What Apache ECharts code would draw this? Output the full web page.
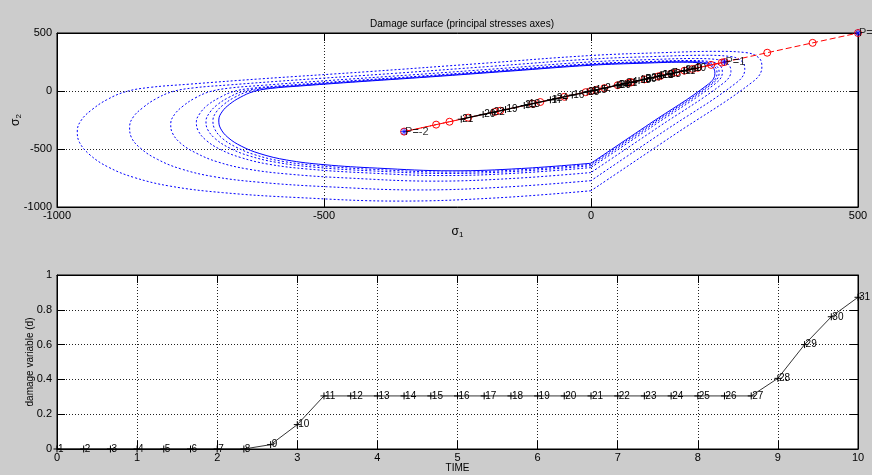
<!DOCTYPE html>
<html>
<head>
<meta charset="utf-8">
<script src="https://cdn.jsdelivr.net/npm/echarts@6/dist/echarts.min.js"></script>
<style>
html,body{margin:0;padding:0;background:#cccccc;}
#c{width:872px;height:475px;}
</style>
</head>
<body>
<div id="c"></div>
<script>
// ---- Damage surfaces (sigma1, sigma2) ----
const surf100 = [[0,-623],[-130,-668],[-260,-688],[-400,-665],[-500,-635],[-570,-595],[-620,-540],[-655,-475],[-680,-400],[-694,-320],[-697,-250],[-691,-180],[-677,-115],[-657,-55],[-632,-5],[-600,22],[-545,43],[-450,75],[-300,122],[-150,172],[0,222],[100,240],[170,248],[210,240],[228,205],[232,150],[220,60],[110,-282],[0,-623]];
const surf102 = [[0,-633],[-132,-679],[-264,-699],[-406,-676],[-508,-645],[-579,-605],[-630,-549],[-665,-483],[-691,-406],[-705,-325],[-708,-254],[-702,-183],[-688,-117],[-668,-56],[-642,-5],[-610,22],[-554,44],[-457,76],[-305,124],[-152,175],[0,226],[102,244],[173,252],[213,244],[232,208],[236,152],[224,61],[112,-287],[0,-633]];
const surf103 = [[0,-644],[-134,-691],[-269,-711],[-414,-688],[-517,-657],[-589,-615],[-641,-558],[-677,-491],[-703,-414],[-718,-331],[-721,-259],[-714,-186],[-700,-119],[-679,-57],[-653,-5],[-620,23],[-564,44],[-465,78],[-310,126],[-155,178],[0,230],[103,248],[176,256],[217,248],[236,212],[240,155],[227,62],[114,-292],[0,-644]];
const surf106 = [[0,-660],[-138,-708],[-276,-729],[-424,-705],[-530,-673],[-604,-631],[-657,-572],[-694,-504],[-721,-424],[-736,-339],[-739,-265],[-732,-191],[-718,-122],[-696,-58],[-670,-5],[-636,23],[-578,46],[-477,80],[-318,129],[-159,182],[0,235],[106,254],[180,263],[223,254],[242,217],[246,159],[233,64],[117,-299],[0,-660]];
const surf113 = [[0,-703],[-147,-754],[-294,-777],[-452,-751],[-565,-717],[-644,-672],[-700,-610],[-739,-536],[-768,-452],[-784,-361],[-787,-282],[-780,-203],[-764,-130],[-742,-62],[-714,-6],[-677,25],[-615,49],[-508,85],[-339,138],[-169,194],[0,251],[113,271],[192,280],[237,271],[257,231],[262,169],[248,68],[124,-318],[0,-703]];
const surf124 = [[0,-773],[-161,-828],[-322,-853],[-496,-825],[-620,-787],[-707,-738],[-769,-670],[-812,-589],[-843,-496],[-861,-397],[-864,-310],[-857,-223],[-839,-143],[-815,-68],[-784,-6],[-744,27],[-676,53],[-558,93],[-372,151],[-186,213],[0,275],[124,298],[211,308],[260,298],[283,254],[288,186],[273,74],[136,-350],[0,-773]];
const surf138 = [[0,-860],[-179,-922],[-359,-949],[-552,-918],[-690,-876],[-787,-821],[-856,-745],[-904,-656],[-938,-552],[-958,-442],[-962,-345],[-954,-248],[-934,-159],[-907,-76],[-872,-7],[-828,30],[-752,59],[-621,104],[-414,168],[-207,237],[0,306],[138,331],[235,342],[290,331],[315,283],[320,207],[304,83],[152,-389],[0,-860]];

// ---- Loading path along sigma1 = sigma2 (effective and actual stress per step) ----
const effStress = [0,25,50,75,100,125,150,175,200,225,250,190,130,70,10,-50,-110,-170,-230,-290,-350,-265,-180,-95,-10,75,160,245,330,415,500];
const stress    = [0,25,50,75,100,125,150,175,195,193,174,132,90,49,7,-35,-76,-118,-160,-202,-243,-184,-125,-66,-7,52,111,146,132,100,64];
const loadPoints = [250,-350,500];
const loadLabels = ['P=1','P=-2','P=3'];

// ---- Damage evolution ----
const stepLabels = ['1','2','3','4','5','6','7','8','9','10','11','12','13','14','15','16','17','18','19','20','21','22','23','24','25','26','27','28','29','30','31'];
const time   = [0,0.333,0.667,1,1.333,1.667,2,2.333,2.667,3,3.333,3.667,4,4.333,4.667,5,5.333,5.667,6,6.333,6.667,7,7.333,7.667,8,8.333,8.667,9,9.333,9.667,10];
const damage = [0,0,0,0,0,0,0,0,0.025,0.14,0.305,0.305,0.305,0.305,0.305,0.305,0.305,0.305,0.305,0.305,0.305,0.305,0.305,0.305,0.305,0.305,0.305,0.406,0.6,0.76,0.872];

const FONT = 'Liberation Sans, Arial, Helvetica, sans-serif';
const PLUS = 'path://M5,0L5,10M0,5L10,5';
const STAR = 'path://M5,0L5,10M0,5L10,5M1.5,1.5L8.5,8.5M8.5,1.5L1.5,8.5';
const plain = v => String(v);
const grid = (top) => ({left:57, top:top, width:801, height:174, show:true, backgroundColor:'#ffffff', borderColor:'#000', borderWidth:1});
const dotted = {show:true, lineStyle:{color:'#222', type:[1,2], width:1}};
function mainX(gi, min, max, iv, name, gap, nts){
  return {type:'value', gridIndex:gi, min:min, max:max, interval:iv, position:'bottom',
    axisLine:{show:true, onZero:false, lineStyle:{color:'#000'}},
    axisTick:{show:true, inside:true, length:8, lineStyle:{color:'#000'}},
    axisLabel:{color:'#000', fontSize:11, fontFamily:FONT, margin:3, formatter:plain},
    splitLine:dotted, name:name, nameLocation:'middle', nameGap:gap, nameMoveOverlap:false, nameTextStyle:nts};
}
function mainY(gi, min, max, iv, name, gap, nts){
  return {type:'value', gridIndex:gi, min:min, max:max, interval:iv, position:'left',
    axisLine:{show:true, onZero:false, lineStyle:{color:'#000'}},
    axisTick:{show:true, inside:true, length:8, lineStyle:{color:'#000'}},
    axisLabel:{color:'#000', fontSize:11, fontFamily:FONT, margin:5, formatter:plain},
    splitLine:dotted, name:name, nameLocation:'middle', nameGap:gap, nameMoveOverlap:false, nameTextStyle:nts};
}
function mirror(gi, min, max, iv, pos){
  return {type:'value', gridIndex:gi, min:min, max:max, interval:iv, position:pos,
    axisLine:{show:true, onZero:false, lineStyle:{color:'#000'}},
    axisTick:{show:true, inside:true, length:8, lineStyle:{color:'#000'}},
    axisLabel:{show:false}, splitLine:{show:false}};
}
const sigRich = {rich:{s:{fontSize:12, fontFamily:FONT, color:'#000', verticalAlign:'middle'}, sub:{fontSize:8, fontFamily:FONT, color:'#000', padding:[7,0,0,0]}}};

const surfaces = [surf138, surf124, surf113, surf106, surf103, surf102];
const series = [];
surfaces.forEach(s => series.push({type:'line', xAxisIndex:0, yAxisIndex:0, data:s, showSymbol:false, smooth:0.4, z:2,
  lineStyle:{color:'#0000ff', width:1, type:[2,2]}, silent:true}));
series.push({type:'line', xAxisIndex:0, yAxisIndex:0, data:surf100, showSymbol:false, smooth:0.4, z:2,
  lineStyle:{color:'#0000ff', width:1}, silent:true});
series.push({type:'line', xAxisIndex:0, yAxisIndex:0, z:3, showAllSymbol:true,
  data: effStress.map(v => [v, v]),
  symbol:'circle', symbolSize:7, itemStyle:{color:'rgba(0,0,0,0)', borderColor:'#ff0000', borderWidth:1},
  lineStyle:{color:'#ff0000', width:1, type:[6,3]}});
series.push({type:'line', xAxisIndex:0, yAxisIndex:0, z:4, showAllSymbol:true,
  data: stress.map((v,i) => ({name:stepLabels[i], value:[v, v]})),
  symbol:PLUS, symbolSize:7, itemStyle:{color:'rgba(0,0,0,0)', borderColor:'#000', borderWidth:1},
  lineStyle:{color:'#000', width:1.2},
  label:{show:true, position:'right', distance:-3, formatter:'{b}', fontSize:10, fontFamily:FONT, color:'#000'}});
series.push({type:'scatter', xAxisIndex:0, yAxisIndex:0, z:5,
  data: loadPoints.map((v,i) => ({name:loadLabels[i], value:[v, v]})),
  symbol:STAR, symbolSize:7, itemStyle:{color:'rgba(0,0,0,0)', borderColor:'#0000ff', borderWidth:1},
  label:{show:true, position:'right', distance:-3, formatter:'{b}', fontSize:11, fontFamily:FONT, color:'#000'}});
series.push({type:'line', xAxisIndex:2, yAxisIndex:2, z:4, showAllSymbol:true,
  data: time.map((t,i) => ({name:stepLabels[i], value:[t, damage[i]]})),
  symbol:PLUS, symbolSize:7, itemStyle:{color:'rgba(0,0,0,0)', borderColor:'#000', borderWidth:1},
  lineStyle:{color:'#000', width:0.8},
  label:{show:true, position:'right', distance:-3, formatter:'{b}', fontSize:10, fontFamily:FONT, color:'#000'}});

const option = {
  animation:false,
  backgroundColor:'#cccccc',
  title:{text:'Damage surface (principal stresses axes)', left:457, top:14, textAlign:'center',
    textStyle:{fontSize:10, fontWeight:'normal', color:'#000', fontFamily:FONT}},
  grid:[grid(33), grid(275)],
  xAxis:[
    mainX(0, -1000, 500, 500, '{s|σ}{sub|1}', 17, sigRich),
    mirror(0, -1000, 500, 500, 'top'),
    mainX(1, 0, 10, 1, 'TIME', 14, {fontSize:10, fontFamily:FONT, color:'#000'}),
    mirror(1, 0, 10, 1, 'top')
  ],
  yAxis:[
    mainY(0, -1000, 500, 500, '{s|σ}{sub|2}', 34, sigRich),
    mirror(0, -1000, 500, 500, 'right'),
    mainY(1, 0, 1, 0.2, 'damage variable (d)', 22, {fontSize:10, fontFamily:FONT, color:'#000'}),
    mirror(1, 0, 1, 0.2, 'right')
  ],
  series:series
};
const chart = echarts.init(document.getElementById('c'), null, {renderer:'canvas'});
chart.setOption(option);
</script>
</body>
</html>
